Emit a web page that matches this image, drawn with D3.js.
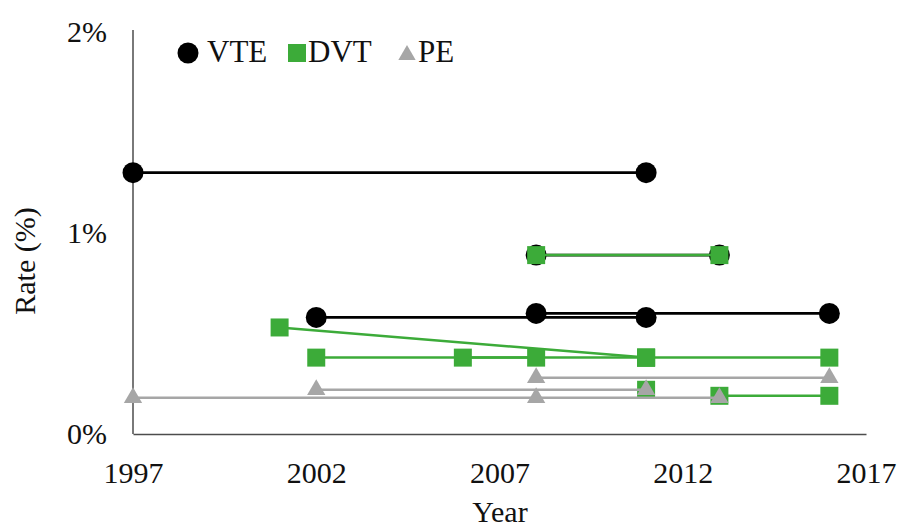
<!DOCTYPE html>
<html>
<head>
<meta charset="utf-8">
<script src="https://cdn.jsdelivr.net/npm/d3@7"></script>
<style>
  body { margin: 0; background: #fff; }
  text { font-family: "Liberation Serif", "Times New Roman", serif; fill: #111; }
</style>
</head>
<body>
<div id="chart"></div>
<script>
var width = 898, height = 527;

// each study: [start year, start rate, end year, end rate]
var vteStudies = [
  [1997, 1.3, 2011, 1.3],
  [2002, 0.58, 2011, 0.58],
  [2008, 0.6, 2016, 0.6],
  [2008, 0.89, 2013, 0.89]
];
var dvtStudies = [
  [2008, 0.89, 2013, 0.89],
  [2001, 0.53, 2011, 0.38],
  [2002, 0.38, 2008, 0.38],
  [2006, 0.38, 2011, 0.38],
  [2011, 0.38, 2016, 0.38],
  [2011, 0.22, 2011, 0.22],
  [2013, 0.19, 2016, 0.19]
];
var peStudies = [
  [1997, 0.18, 2013, 0.18],
  [2002, 0.22, 2011, 0.22],
  [2008, 0.28, 2016, 0.28],
  [2008, 0.18, 2008, 0.18]
];
var xTicks = [1997, 2002, 2007, 2012, 2017];
var yTicks = [0, 1, 2];
var legendNames = ['VTE', 'DVT', 'PE'];

var green = '#3cab39', grey = '#a6a6a6';

var svg = d3.select('#chart').append('svg')
  .attr('width', width)
  .attr('height', height);

var x = d3.scaleLinear().domain([1997, 2017]).range([133, 866]);
var y = d3.scaleLinear().domain([0, 2]).range([434, 32]);

// axes
var xAxis = svg.append('g')
  .attr('transform', `translate(0, ${y(0)})`)
  .call(d3.axisBottom(x).tickValues(xTicks).tickFormat(d3.format('d'))
    .tickSize(0).tickPadding(28));

var yAxis = svg.append('g')
  .attr('transform', `translate(${x(1997)}, 0)`)
  .call(d3.axisLeft(y).tickValues(yTicks).tickFormat(d => d + '%')
    .tickSize(0).tickPadding(26));

svg.selectAll('.domain').attr('stroke', '#4d4d4d').attr('stroke-width', 1.5);
yAxis.select('.domain').attr('d', `M0,${y(0)}V30`);
svg.selectAll('.tick text')
  .attr('font-size', 30)
  .attr('font-family', '"Liberation Serif", serif')
  .attr('fill', '#111');

svg.append('text')
  .attr('x', 500)
  .attr('y', 522)
  .attr('text-anchor', 'middle')
  .attr('font-size', 30)
  .text('Year');

svg.append('text')
  .attr('transform', 'translate(35, 261) rotate(-90)')
  .attr('text-anchor', 'middle')
  .attr('font-size', 30)
  .text('Rate (%)');

var plot = svg.append('g');

function drawSeries(studies, color, shape, width) {
  var g = plot.append('g');
  g.selectAll('line').data(studies).enter().append('line')
    .attr('x1', d => x(d[0]))
    .attr('y1', d => y(d[1]))
    .attr('x2', d => x(d[2]))
    .attr('y2', d => y(d[3]))
    .attr('stroke', color)
    .attr('stroke-width', width);
  var pts = [];
  studies.forEach(d => {
    pts.push([d[0], d[1]]);
    if (d[2] != d[0] || d[3] != d[1]) pts.push([d[2], d[3]]);
  });
  g.selectAll('path.mark').data(pts).enter().append('path')
    .attr('class', 'mark')
    .attr('d', shape)
    .attr('transform', d => `translate(${x(d[0])}, ${y(d[1])})`)
    .attr('fill', color);
}

var circle = d3.symbol().type(d3.symbolCircle).size(Math.PI * 10.5 * 10.5);
var square = d3.symbol().type(d3.symbolSquare).size(18 * 18);
var triangle = d3.symbol().type(d3.symbolTriangle).size(145);

drawSeries(vteStudies, '#000', circle(), 2.8);
drawSeries(dvtStudies, green, square(), 2.5);
drawSeries(peStudies, grey, triangle(), 2.5);

// legend
var legend = svg.append('g');
var legendItems = [
  { name: legendNames[0], shape: circle(), color: '#000', mx: 188, my: 53, tx: 207 },
  { name: legendNames[1], shape: square(), color: green, mx: 297, my: 53, tx: 308 },
  { name: legendNames[2], shape: d3.symbol().type(d3.symbolTriangle).size(130)(), color: grey, mx: 407, my: 55, tx: 418 }
];
legendItems.forEach(d => {
  legend.append('path')
    .attr('d', d.shape)
    .attr('transform', `translate(${d.mx}, ${d.my})`)
    .attr('fill', d.color);
  legend.append('text')
    .attr('x', d.tx)
    .attr('y', 62)
    .attr('font-size', 31)
    .text(d.name);
});
</script>
</body>
</html>
